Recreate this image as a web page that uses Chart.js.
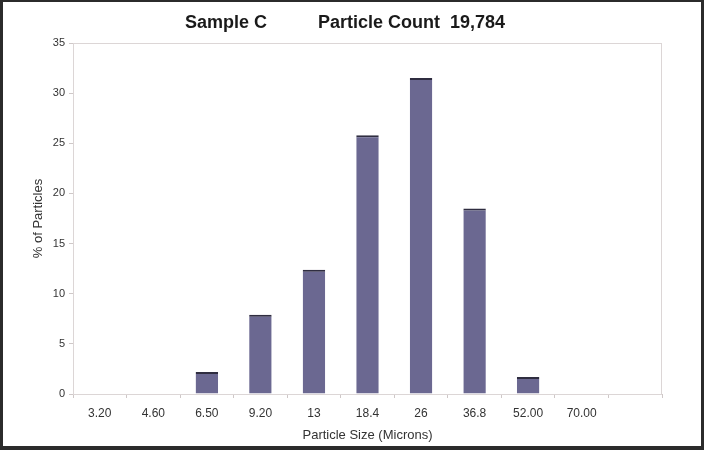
<!DOCTYPE html>
<html>
<head>
<meta charset="utf-8">
<script src="https://cdn.jsdelivr.net/npm/chart.js@4"></script>
<style>
  html, body { margin: 0; padding: 0; background: #fff; }
  #wrap { width: 704px; height: 450px; position: relative; }
</style>
</head>
<body>
<div id="wrap"><canvas id="chart" width="704" height="450"></canvas></div>
<script>
// particle size bins (microns) - last slot is empty on the original
const sizeLabels = ['3.20', '4.60', '6.50', '9.20', '13', '18.4', '26', '36.8', '52.00', '70.00', ''];
const percentParticles = [0, 0, 2.2, 7.9, 12.4, 25.8, 31.5, 18.5, 1.7, 0, 0];
const yTicks = [0, 5, 10, 15, 20, 25, 30, 35];

const chartElement = document.getElementById('chart');
const fontFamily = "'Liberation Sans', Arial, sans-serif";

// light frame round the plot area plus the dark outer border
const framePlugin = {
  id: 'frame',
  beforeDatasetsDraw(chart) {
    const { ctx, chartArea } = chart;
    ctx.save();
    ctx.strokeStyle = '#dcd6d6';
    ctx.lineWidth = 1;
    ctx.strokeRect(chartArea.left + 0.5, chartArea.top + 0.5,
      chartArea.right - chartArea.left - 1, chartArea.bottom - chartArea.top);
    ctx.restore();
  },
  afterDraw(chart) {
    const ctx = chart.ctx;
    ctx.save();
    ctx.fillStyle = '#2b2b2b';
    ctx.fillRect(0, 0, 704, 2);
    ctx.fillRect(0, 0, 3, 450);
    ctx.fillRect(701, 0, 3, 450);
    ctx.fillRect(0, 446, 704, 4);

    // title: two parts, as on the original
    ctx.fillStyle = '#1a1a1a';
    ctx.font = 'bold 18px ' + fontFamily;
    ctx.textBaseline = 'alphabetic';
    ctx.textAlign = 'left';
    ctx.fillText('Sample C', 185, 28);
    ctx.fillText('Particle Count  19,784', 318, 28);
    ctx.restore();
  }
};

new Chart(chartElement, {
  type: 'bar',
  data: {
    labels: sizeLabels,
    datasets: [{
      label: '% of Particles',
      data: percentParticles,
      backgroundColor: '#6b6891',
      borderColor: '#2f2d40',
      borderWidth: { top: 2, left: 0, right: 0, bottom: 0 },
      borderSkipped: 'bottom',
      barPercentage: 0.42,
      categoryPercentage: 1.0,
    }],
  },
  options: {
    responsive: false,
    animation: false,
    layout: { padding: { left: 0, right: 42, top: 43, bottom: 4 } },
    plugins: {
      legend: { display: false },
      title: { display: false },
      tooltip: { enabled: false },
    },
    scales: {
      x: {
        grid: { display: true, drawOnChartArea: false, offset: true, tickLength: 4, color: '#cfc8c8' },
        border: { display: true, color: '#cfc8c8' },
        ticks: { color: '#333', font: { family: fontFamily, size: 12 }, padding: 8, maxRotation: 0, autoSkip: false },
        title: { display: true, text: 'Particle Size (Microns)', color: '#333',
          font: { family: fontFamily, size: 13 }, padding: { top: 0, bottom: 3 } },
        afterFit(scale) { scale.height = 52; },
      },
      y: {
        min: 0,
        max: 35,
        afterBuildTicks(scale) { scale.ticks = yTicks.map(v => ({ value: v })); },
        grid: { display: true, drawOnChartArea: false, tickLength: 4, color: '#cfc8c8' },
        border: { display: true, color: '#cfc8c8' },
        ticks: { color: '#333', font: { family: fontFamily, size: 11 }, padding: 4 },
        title: { display: true, text: '% of Particles', color: '#333',
          font: { family: fontFamily, size: 13 }, padding: { top: 31, bottom: 0 } },
        afterFit(scale) { scale.width = 73; },
      },
    },
  },
  plugins: [framePlugin],
});
</script>
</body>
</html>
